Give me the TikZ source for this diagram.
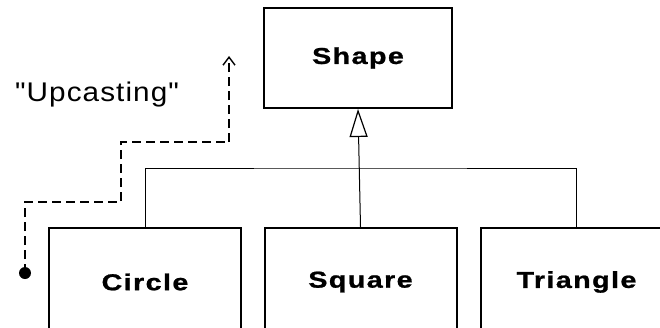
\documentclass[tikz,border=0pt]{standalone}
\usepackage{fontspec}
\setmainfont{Liberation Sans}
\usetikzlibrary{arrows.meta}
\newfontfamily\boxfont[FakeStretch=1.25,LetterSpace=6,FakeBold=1]{Liberation Sans Bold}
\newfontfamily\notefont[FakeStretch=1.1,LetterSpace=4]{Liberation Sans}
\tikzset{
  classbox/.style={draw, line width=2pt, rectangle, inner sep=0pt,
    minimum width=192pt, font=\boxfont\fontsize{23}{26}\selectfont},
  conn/.style={line width=1pt},
  upcast/.style={line width=1.8pt, dash pattern=on 9pt off 5pt}
}
\begin{document}
\begin{tikzpicture}[x=1pt,y=-1pt]
\useasboundingbox (0,0) rectangle (660,327);
\clip (0,0) rectangle (660,327);
\node[classbox, minimum width=188pt, minimum height=100pt] (shape) at (358,58) {Shape};
\node[classbox, minimum height=108pt] (circle) at (145,282) {Circle};
\node[classbox, minimum height=108pt] (square) at (360.5,282) {Square};
\node[classbox, minimum height=108pt] (triangle) at (576.5,282) {Triangle};
\coordinate (bar) at (360,168);
\draw[conn] (circle.north) |- (bar) -| (triangle.north);
\draw[conn, -{Triangle[open, length=28pt, width=18pt, line width=1.2pt]}] (square.north) -- (shape.south);
\node[font=\notefont\fontsize{27}{30}\selectfont] (note) at (97,95) {"Upcasting"};
\coordinate (dot) at (25,273);
\coordinate (s1) at (121,202);
\coordinate (s2) at (229,142);
\coordinate (tip) at (229,56);
\fill (dot) circle (6pt);
\draw[upcast] (dot) |- (s1) |- (s2);
\draw[upcast, -{Straight Barb[length=8pt, width=12pt, line width=1.4pt]}] (s2) -- (tip);
\end{tikzpicture}
\end{document}
